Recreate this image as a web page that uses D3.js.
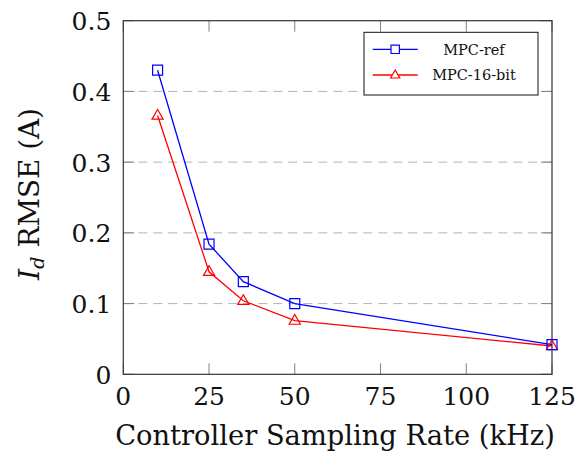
<!DOCTYPE html>
<html>
<head>
<meta charset="utf-8">
<script src="https://cdn.jsdelivr.net/npm/d3@7"></script>
<style>
  body { margin: 0; background: #fff; }
  text { font-family: "DejaVu Serif", serif; fill: #111; }
</style>
</head>
<body>
<div id="chart"></div>
<script>
var rates = [10, 25, 35, 50, 125];
var mpcRef = [0.430, 0.184, 0.131, 0.100, 0.042];
var mpc16 = [0.366, 0.145, 0.104, 0.076, 0.040];
var xTicks = [0, 25, 50, 75, 100, 125];
var yTicks = [0, 0.1, 0.2, 0.3, 0.4, 0.5];
var seriesNames = ["MPC-ref", "MPC-16-bit"];

var W = 586, H = 457,
    margin = {top: 20.7, right: 34, bottom: 82.7, left: 123.3},
    width = W - margin.left - margin.right,
    height = H - margin.top - margin.bottom;

var svg = d3.select("#chart").append("svg")
    .attr("width", W)
    .attr("height", H);

var g = svg.append("g")
    .attr("transform", "translate(" + margin.left + "," + margin.top + ")");

var x = d3.scaleLinear().domain([0, 125]).range([0, width]);
var y = d3.scaleLinear().domain([0, 0.5]).range([height, 0]);

// dashed grid
g.selectAll(".grid")
    .data(yTicks.slice(1, -1))
    .enter().append("line")
    .attr("x1", 0).attr("x2", width)
    .attr("y1", function(d) { return y(d); })
    .attr("y2", function(d) { return y(d); })
    .attr("stroke", "#b3b3b3")
    .attr("stroke-width", 1)
    .attr("stroke-dasharray", "9,6");

// inward ticks on all four sides
var tl = 11;
xTicks.forEach(function(d) {
    g.append("line").attr("x1", x(d)).attr("x2", x(d)).attr("y1", height).attr("y2", height - tl)
        .attr("stroke", "#808080").attr("stroke-width", 1);
    g.append("line").attr("x1", x(d)).attr("x2", x(d)).attr("y1", 0).attr("y2", tl)
        .attr("stroke", "#808080").attr("stroke-width", 1);
    g.append("text").attr("x", x(d)).attr("y", height + 31)
        .attr("text-anchor", "middle").attr("font-size", 25).text(d);
});
yTicks.forEach(function(d) {
    g.append("line").attr("x1", 0).attr("x2", tl).attr("y1", y(d)).attr("y2", y(d))
        .attr("stroke", "#808080").attr("stroke-width", 1);
    g.append("line").attr("x1", width).attr("x2", width - tl).attr("y1", y(d)).attr("y2", y(d))
        .attr("stroke", "#808080").attr("stroke-width", 1);
    g.append("text").attr("x", -12).attr("y", y(d) + 9.5)
        .attr("text-anchor", "end").attr("font-size", 25).text(d === 0 ? "0" : d3.format(".1f")(d));
});

// frame
g.append("rect")
    .attr("width", width).attr("height", height)
    .attr("fill", "none").attr("stroke", "#333").attr("stroke-width", 1.2);

var line = d3.line()
    .x(function(d) { return x(d[0]); })
    .y(function(d) { return y(d[1]); });

var refPts = d3.zip(rates, mpcRef);
var bitPts = d3.zip(rates, mpc16);

g.append("path").datum(bitPts).attr("d", line)
    .attr("fill", "none").attr("stroke", "#ff0000").attr("stroke-width", 1.3);
g.append("path").datum(refPts).attr("d", line)
    .attr("fill", "none").attr("stroke", "#0000ff").attr("stroke-width", 1.3);

var sq = d3.symbol().type(d3.symbolSquare).size(100);
var tri = "M0,-6L5.6,3.7L-5.6,3.7Z";

g.selectAll(".tri").data(bitPts).enter().append("path")
    .attr("d", tri)
    .attr("transform", function(d) { return "translate(" + x(d[0]) + "," + y(d[1]) + ")"; })
    .attr("fill", "none").attr("stroke", "#ff0000").attr("stroke-width", 1.2);
g.selectAll(".sq").data(refPts).enter().append("path")
    .attr("d", sq)
    .attr("transform", function(d) { return "translate(" + x(d[0]) + "," + y(d[1]) + ")"; })
    .attr("fill", "none").attr("stroke", "#0000ff").attr("stroke-width", 1.2);

// axis labels
var xl = svg.append("text")
    .attr("x", 335).attr("y", 445)
    .attr("text-anchor", "middle").attr("font-size", 25)
    .text("Controller Sampling Rate (kHz)");
xl.attr("font-size", 25 * 440 / xl.node().getComputedTextLength());

var yl = svg.append("text")
    .attr("text-anchor", "middle").attr("font-size", 27);
yl.append("tspan").attr("font-style", "italic").text("I");
yl.append("tspan").attr("font-style", "italic").attr("font-size", 19).attr("dy", 5).text("d");
yl.append("tspan").attr("dy", -5).text(" RMSE (A)");
var sx = 172 / yl.node().getComputedTextLength();
yl.attr("transform", "translate(38.5,194) rotate(-90) scale(" + sx + ",1)");

// legend
var lg = svg.append("g").attr("transform", "translate(364,32.3)");
lg.append("rect").attr("width", 174).attr("height", 62.7)
    .attr("fill", "#fff").attr("stroke", "#111").attr("stroke-width", 1);
var colors = ["#0000ff", "#ff0000"];
seriesNames.forEach(function(name, i) {
    var yy = 17 + i * 25.7;
    lg.append("line").attr("x1", 8.7).attr("x2", 53.7).attr("y1", yy).attr("y2", yy)
        .attr("stroke", colors[i]).attr("stroke-width", 1.3);
    lg.append("path").attr("d", i === 0 ? d3.symbol().type(d3.symbolSquare).size(70)() : "M0,-5L4.6,3L-4.6,3Z")
        .attr("transform", "translate(31.2," + yy + ")")
        .attr("fill", "#fff").attr("stroke", colors[i]).attr("stroke-width", 1.2);
    lg.append("text").attr("x", 110).attr("y", yy + 5.5)
        .attr("text-anchor", "middle").attr("font-size", 14.5).text(name);
});
</script>
</body>
</html>
